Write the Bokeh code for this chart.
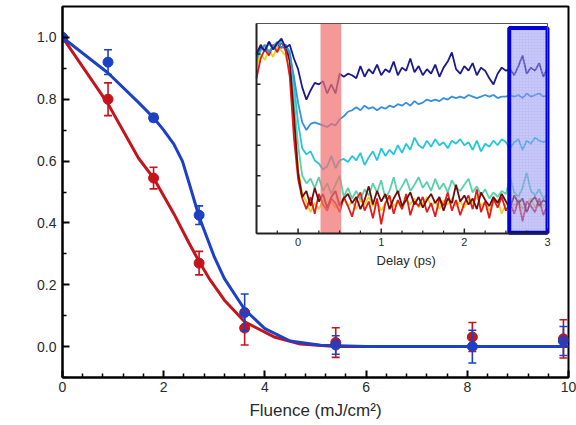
import math
from bokeh.plotting import figure
from bokeh.models import (Range1d, FixedTicker, Whisker, TeeHead, ColumnDataSource,
                          PrintfTickFormatter, Label)
from bokeh.core.properties import value
from bokeh.embed import file_html
from bokeh.resources import INLINE

FONT = "Liberation Sans"

# ---------------- main data ----------------
fluence = [0.0, 0.9, 1.8, 2.7, 3.6, 5.4, 8.1, 9.9]
blue_y = [1.0, 0.92, 0.74, 0.425, 0.11, 0.005, 0.0, 0.018]
blue_err = [0.0, 0.04, 0.012, 0.03, 0.06, 0.03, 0.053, 0.047]
red_y = [1.0, 0.80, 0.545, 0.27, 0.06, 0.013, 0.031, 0.025]
red_err = [0.0, 0.053, 0.035, 0.038, 0.055, 0.048, 0.047, 0.062]

blue_fit_x = [0.0, 0.9, 1.5, 1.8, 2.0, 2.2, 2.37, 2.5, 2.7, 3.0, 3.2, 3.6, 4.0, 4.5, 5.1, 6.0, 10.0]
blue_fit_y = [1.0, 0.885, 0.79, 0.74, 0.70, 0.655, 0.60, 0.53, 0.42, 0.29, 0.22, 0.12, 0.058, 0.018, 0.004, 0.0, 0.0]
red_fit_x = [0.0, 0.9, 1.5, 1.8, 2.2, 2.5, 2.7, 2.9, 3.2, 3.6, 4.2, 4.7, 5.4, 10.0]
red_fit_y = [1.0, 0.785, 0.61, 0.545, 0.43, 0.335, 0.275, 0.22, 0.15, 0.08, 0.03, 0.008, 0.0, 0.0]

x_ticks = [0, 2, 4, 6, 8, 10]
x_minor = [0.4, 0.8, 1.2, 1.6, 2.4, 2.8, 3.2, 3.6, 4.4, 4.8, 5.2, 5.6, 6.4, 6.8, 7.2, 7.6, 8.4, 8.8, 9.2, 9.6]
y_ticks = [0.0, 0.2, 0.4, 0.6, 0.8, 1.0]
y_minor = [-0.1, 0.1, 0.3, 0.5, 0.7, 0.9]

# ---------------- inset data ----------------
delay = [-0.5, -0.45, -0.4, -0.35, -0.3, -0.25, -0.2, -0.15, -0.1, -0.05,
         0.0, 0.05, 0.1, 0.15, 0.2, 0.25, 0.3, 0.35, 0.4, 0.45,
         0.5, 0.55, 0.6, 0.65, 0.7, 0.75, 0.8, 0.85, 0.9, 0.95,
         1.0, 1.05, 1.1, 1.15, 1.2, 1.25, 1.3, 1.35, 1.4, 1.45,
         1.5, 1.55, 1.6, 1.65, 1.7, 1.75, 1.8, 1.85, 1.9, 1.95,
         2.0, 2.05, 2.1, 2.15, 2.2, 2.25, 2.3, 2.35, 2.4, 2.45,
         2.5, 2.55, 2.6, 2.65, 2.7, 2.75, 2.8, 2.85, 2.9, 2.95,
         3.0]

trace_navy = [1.00, 1.05, 1.02, 1.08, 1.03, 1.07, 1.10, 1.04, 1.06, 0.97,
              0.90, 0.78, 0.70, 0.76, 0.81, 0.80, 0.82, 0.74, 0.80, 0.74,
              0.87, 0.85, 0.87, 0.86, 0.84, 0.92, 0.85, 0.90, 0.87, 0.93,
              0.86, 0.90, 0.88, 0.95, 0.86, 0.91, 0.89, 0.97, 0.88, 0.92,
              0.86, 0.90, 0.87, 0.93, 0.85, 0.91, 0.95, 1.01, 0.90, 0.87,
              0.92, 0.89, 0.94, 0.86, 0.91, 0.89, 0.84, 0.80, 0.87, 0.91,
              0.89, 0.90, 0.86, 0.92, 0.99, 0.87, 0.91, 0.89, 0.94, 0.85,
              0.91]
trace_blue = [0.98, 1.03, 1.06, 1.01, 1.05, 1.08, 1.04, 1.06, 1.00, 0.85,
              0.68, 0.55, 0.50, 0.54, 0.55, 0.54, 0.53, 0.52, 0.54, 0.53,
              0.57, 0.59, 0.62, 0.63, 0.65, 0.63, 0.66, 0.64, 0.65, 0.63,
              0.65, 0.64, 0.66, 0.65, 0.67, 0.66, 0.68, 0.66, 0.69, 0.67,
              0.68, 0.70, 0.69, 0.70, 0.69, 0.71, 0.70, 0.72, 0.71, 0.72,
              0.71, 0.73, 0.72, 0.71, 0.72, 0.73, 0.72, 0.73, 0.71, 0.72,
              0.72, 0.73, 0.72, 0.73, 0.71, 0.74, 0.72, 0.73, 0.74, 0.72,
              0.73]
trace_cyan = [0.96, 1.04, 1.02, 1.07, 1.03, 1.06, 1.08, 1.05, 1.02, 0.80,
              0.55, 0.38, 0.34, 0.36, 0.30, 0.28, 0.24, 0.26, 0.33, 0.25,
              0.30, 0.31, 0.29, 0.33, 0.30, 0.35, 0.27, 0.32, 0.36, 0.30,
              0.38, 0.33, 0.37, 0.34, 0.40, 0.35, 0.41, 0.37, 0.45, 0.40,
              0.38, 0.43, 0.39, 0.44, 0.40, 0.42, 0.38, 0.43, 0.41, 0.44,
              0.40, 0.42, 0.37, 0.43, 0.36, 0.41, 0.39, 0.43, 0.40, 0.44,
              0.42, 0.38, 0.42, 0.44, 0.37, 0.43, 0.41, 0.45, 0.43, 0.42,
              0.43]
trace_teal = [0.95, 1.02, 1.05, 1.00, 1.06, 1.03, 1.09, 1.04, 0.98, 0.70,
              0.40, 0.20, 0.15, 0.18, 0.12, 0.19, 0.10, 0.15, 0.08, 0.14,
              0.20, 0.06, 0.12, 0.05, 0.10, 0.04, 0.11, 0.07, 0.15, 0.09,
              0.17, 0.05, 0.10, 0.19, 0.08, 0.13, 0.18, 0.10, 0.14, 0.19,
              0.12, 0.16, 0.10, 0.18, 0.11, 0.15, 0.09, 0.17, 0.12, 0.10,
              0.14, 0.18, 0.09, 0.13, 0.07, 0.11, 0.05, 0.09, 0.06, 0.10,
              0.08, 0.19, 0.09, 0.06, 0.12, 0.22, 0.10, 0.07, 0.11, 0.05,
              0.08]
trace_yellow = [0.92, 1.00, 0.96, 1.03, 0.98, 1.05, 1.02, 0.99, 0.90, 0.55,
                0.25, 0.08, 0.03, -0.04, 0.02, -0.02, 0.04, 0.00, 0.03, -0.01,
                0.02, 0.05, 0.00, 0.03, -0.02, 0.04, 0.01, 0.06, 0.00, 0.03,
                -0.03, 0.02, 0.05, 0.00, 0.03, -0.02, 0.04, 0.01, 0.05, -0.01,
                0.02, 0.06, 0.00, 0.03, -0.02, 0.04, 0.01, 0.05, 0.00, 0.03,
                -0.01, 0.04, 0.02, 0.06, 0.00, 0.03, -0.03, 0.02, 0.04, -0.05,
                0.01, 0.03, 0.00, 0.04, -0.02, 0.02, 0.05, -0.01, 0.03, 0.00,
                0.02]
trace_red = [0.84, 0.97, 1.03, 0.99, 1.06, 1.01, 1.08, 1.02, 0.85, 0.45,
             0.18, 0.05, -0.02, 0.06, -0.05, 0.08, 0.01, -0.03, 0.05, 0.02,
             -0.04, 0.06, 0.00, -0.07, 0.04, 0.09, -0.03, 0.03, -0.08, 0.05,
             -0.12, 0.02, 0.07, -0.05, 0.04, -0.02, 0.08, -0.06, 0.03, 0.00,
             0.06, -0.04, 0.02, -0.07, 0.05, 0.00, 0.09, -0.03, 0.04, -0.06,
             0.02, 0.07, -0.02, 0.11, -0.04, 0.03, -0.08, 0.05, -0.01, 0.06,
             -0.03, 0.02, -0.05, 0.04, -0.10, 0.03, 0.00, -0.04, 0.05, -0.06,
             0.01]
trace_darkred = [1.00, 1.06, 1.02, 1.08, 1.03, 1.07, 1.04, 1.06, 0.95, 0.60,
                 0.22, 0.06, 0.10, 0.00, 0.12, 0.03, 0.08, -0.01, 0.06, 0.10,
                 0.00, 0.05, 0.08, 0.02, 0.06, -0.02, 0.04, 0.13, 0.01, 0.10,
                 0.03, 0.08, -0.02, 0.05, 0.10, 0.00, 0.04, 0.09, 0.01, 0.06,
                 -0.01, 0.04, 0.08, 0.02, 0.06, -0.03, 0.05, 0.02, 0.14, 0.03,
                 0.07, 0.01, 0.05, -0.02, 0.09, 0.04, 0.00, 0.06, 0.02, 0.08,
                 0.03, -0.01, 0.07, 0.02, 0.05, -0.04, 0.03, 0.06, 0.00, 0.04,
                 0.02]

inset_x_ticks = [0, 1, 2, 3]
inset_x_labels = ["0", "1", "2", "3"]
inset_x_minor = [-0.25, 0.25, 0.5, 0.75, 1.25, 1.5, 1.75, 2.25, 2.5, 2.75]
inset_y_ticks = [0.0, 0.2, 0.4, 0.6, 0.8, 1.0]
pump_band = (0.27, 0.52)
avg_window = (2.54, 3.0)

# ---------------- layout constants ----------------
W, H = 576, 425
FL, FR, FT, FB = 62, 568, 6, 377          # main frame box in px
IL, IR, IT, IB = 256, 547, 23, 233        # inset box in px
IX0, IX1 = -0.5, 3.0
IY0, IY1 = -0.18, 1.2

sx = (IR - IL) / (IX1 - IX0)
sy = (IB - IT) / (IY1 - IY0)
ix_range = Range1d(IX0 - (IL - FL) / sx, IX1 + (FR - IR) / sx)
iy_range = Range1d(IY0 - (FB - IB) / sy, IY1 + (IT - FT) / sy)

BLUE = "#1c40c6"
RED = "#c4141c"
TXT = "#2a2a2a"

p = figure(width=W, height=H, output_backend="svg", toolbar_location=None,
           x_range=Range1d(0, 10), y_range=Range1d(-0.1, 1.1),
           min_border_left=FL, min_border_right=W - FR,
           min_border_top=FT, min_border_bottom=H - FB)
p.extra_x_ranges = {"ix": ix_range}
p.extra_y_ranges = {"iy": iy_range}
p.background_fill_color = "white"
p.border_fill_color = "white"
p.xgrid.visible = False
p.ygrid.visible = False
p.outline_line_color = "black"
p.outline_line_width = 2
p.outline_line_alpha = 1.0

for ax in (p.xaxis[0], p.yaxis[0]):
    ax.axis_line_width = 2
    ax.axis_line_color = "black"
    ax.major_tick_in = 7
    ax.major_tick_out = 0
    ax.minor_tick_in = 4
    ax.minor_tick_out = 0
    ax.major_tick_line_width = 2
    ax.minor_tick_line_width = 1.5
    ax.major_label_text_font = FONT
    ax.major_label_text_font_size = "14px"
    ax.major_label_text_color = TXT
    ax.axis_label_text_font = FONT
    ax.axis_label_text_font_size = "17px"
    ax.axis_label_text_font_style = "normal"
    ax.axis_label_text_color = TXT

p.xaxis.ticker = FixedTicker(ticks=x_ticks, minor_ticks=x_minor)
p.yaxis.ticker = FixedTicker(ticks=y_ticks, minor_ticks=y_minor)
p.yaxis.formatter = PrintfTickFormatter(format="%.1f")
p.xaxis.major_label_standoff = 4
p.yaxis.major_label_standoff = 6
p.xaxis.axis_label = "Fluence (mJ/cm\u00b2)"
p.xaxis.axis_label_standoff = 6

ylab = Label(x=20 - FL, y=FB - 213, x_units="screen", y_units="screen",
             text="Normalized diffracted intensity", angle=math.pi / 2,
             text_align="center", text_baseline="middle",
             text_font=FONT, text_font_size="17px", text_color=TXT)
p.add_layout(ylab)

# ---------------- inset ----------------
kw = dict(x_range_name="ix", y_range_name="iy")
p.quad(left=[IX0], right=[IX1], bottom=[IY0], top=[IY1], fill_color="white",
       line_color=None, **kw)

trace_list = [
    (trace_teal, "#58d2a6"),
    (trace_yellow, "#ecd020"),
    (trace_red, "#e01c1c"),
    (trace_darkred, "#6e0c0c"),
    (trace_cyan, "#24c6de"),
    (trace_blue, "#3590e0"),
    (trace_navy, "#1a1a8e"),
]
for ys, col in trace_list:
    p.line(delay, ys, line_color=col, line_width=1.8, **kw)

p.quad(left=[pump_band[0]], right=[pump_band[1]], bottom=[IY0], top=[IY1],
       fill_color="#f07070", fill_alpha=0.72, line_color=None, **kw)
p.quad(left=[avg_window[0]], right=[avg_window[1]], bottom=[IY0 + 0.005], top=[IY1 - 0.03],
       fill_color="#8c8cf2", fill_alpha=0.55, hatch_pattern="dot", hatch_color="white",
       hatch_alpha=0.35, hatch_scale=3, line_color="#0000dc", line_width=4, **kw)

# inset frame
p.quad(left=[IX0], right=[IX1], bottom=[IY0], top=[IY1], fill_color=None,
       line_color="#555555", line_width=1, **kw)
p.segment(x0=[IX0, IX0], y0=[IY0, IY0], x1=[IX0, IX1], y1=[IY1, IY0],
          line_color="#222222", line_width=2, **kw)

# inset ticks
p.ray(x=inset_x_ticks, y=[IY0] * len(inset_x_ticks), length=5, length_units="screen",
      angle=math.pi / 2, line_color="#222222", line_width=1.5, **kw)
p.ray(x=inset_x_minor, y=[IY0] * len(inset_x_minor), length=3, length_units="screen",
      angle=math.pi / 2, line_color="#222222", line_width=1.2, **kw)
p.ray(x=[IX0] * len(inset_y_ticks), y=inset_y_ticks, length=4, length_units="screen",
      angle=0, line_color="#222222", line_width=1.5, **kw)

p.text(x=inset_x_ticks, y=[IY0] * len(inset_x_ticks), text=inset_x_labels,
       text_align="center", text_baseline="top", y_offset=4,
       text_font=value(FONT), text_font_size="11px", text_color=TXT, **kw)
p.text(x=[(IX0 + IX1) / 2 + 0.05], y=[IY0], text=["Delay (ps)"],
       text_align="center", text_baseline="top", y_offset=19,
       text_font=value(FONT), text_font_size="13px", text_color=TXT, **kw)

# ---------------- main series ----------------
p.line(red_fit_x, red_fit_y, line_color=RED, line_width=3)
p.line(blue_fit_x, blue_fit_y, line_color=BLUE, line_width=3)

for ys, es, col in ((red_y, red_err, RED), (blue_y, blue_err, BLUE)):
    src = ColumnDataSource(dict(x=fluence, y=ys,
                                upper=[a + b for a, b in zip(ys, es)],
                                lower=[a - b for a, b in zip(ys, es)]))
    wh = Whisker(base="x", upper="upper", lower="lower", source=src,
                 line_color=col, line_width=1.6, level="glyph",
                 upper_head=TeeHead(size=8, line_color=col, line_width=1.6),
                 lower_head=TeeHead(size=8, line_color=col, line_width=1.6))
    p.add_layout(wh)
    p.scatter("x", "y", source=src, size=10, fill_color=col, line_color=col)

open("out.html", "w").write(file_html(p, INLINE))
